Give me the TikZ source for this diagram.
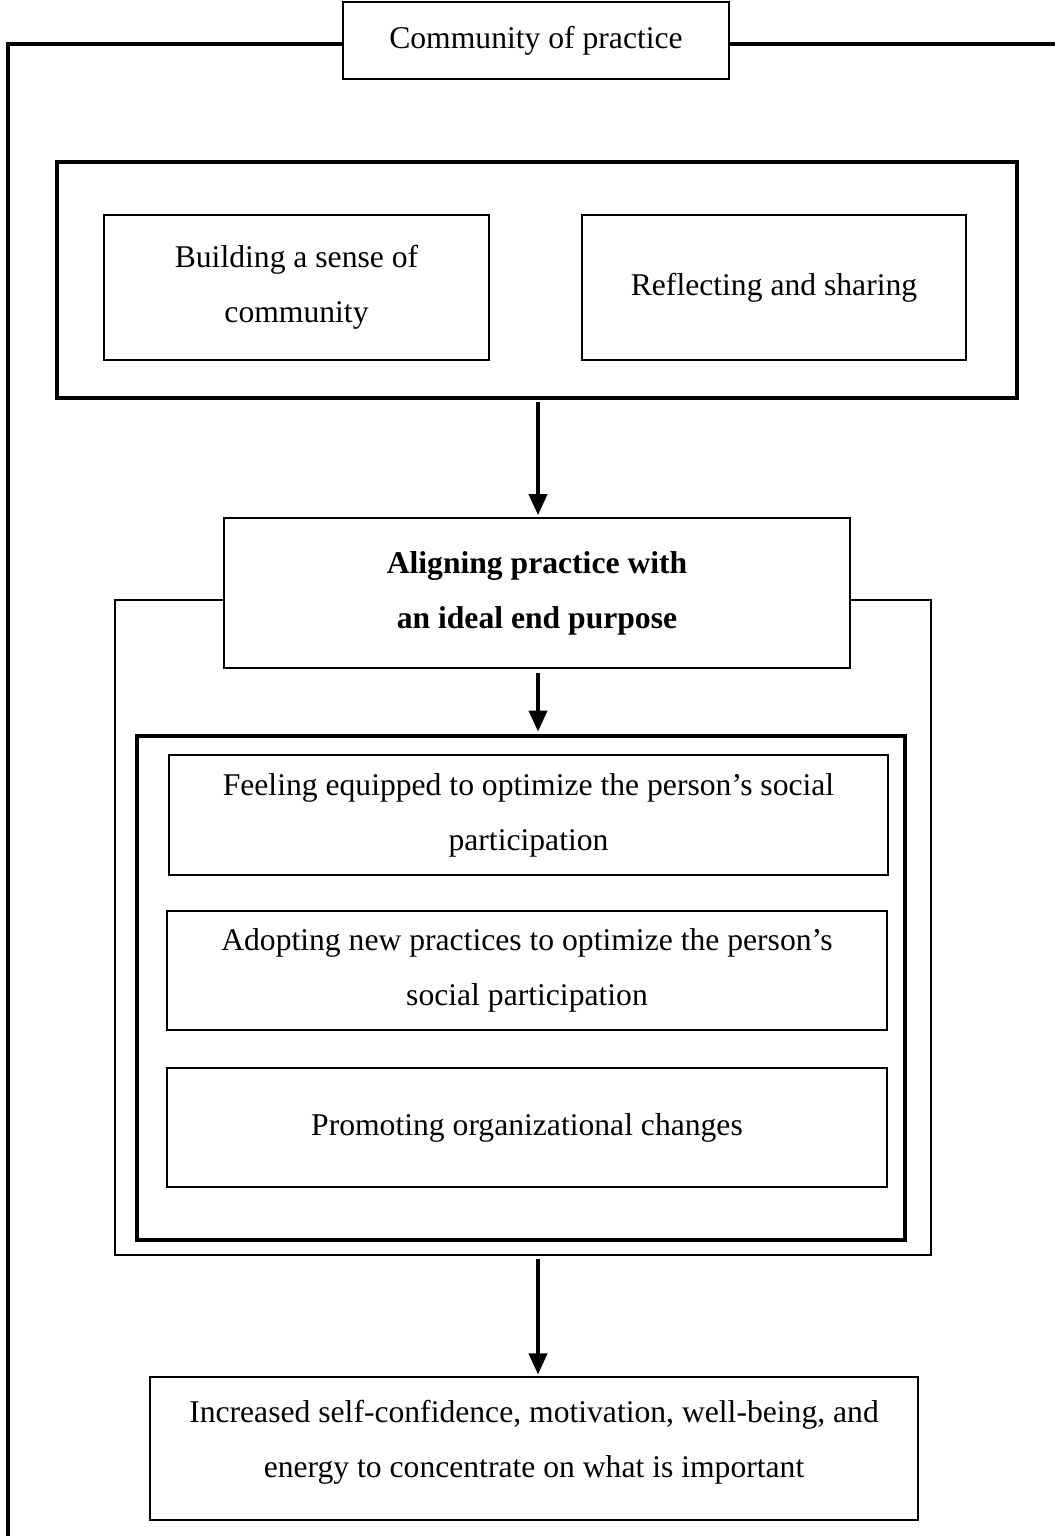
\documentclass[tikz,border=0pt]{standalone}
\usepackage{fontspec}
\setmainfont{Liberation Serif}
\usepackage{tikz}
\usetikzlibrary{arrows.meta,positioning,calc}
\tikzset{
  frameline/.style={line width=1.9pt, black},
  groupbox/.style={rectangle, draw=black, line width=1.9pt, fill=white, inner sep=0pt},
  itembox/.style={rectangle, draw=black, line width=1.2pt, fill=white, inner sep=0pt, align=center,
    font=\fontsize{18pt}{31.3pt}\selectfont},
  keybox/.style={itembox, line width=1.5pt, font=\fontsize{18pt}{31.3pt}\selectfont\bfseries},
  flowarrow/.style={line width=2.2pt, -{Triangle[length=4.2mm,width=3.6mm]}}
}

\begin{document}
\begin{tikzpicture}
  \useasboundingbox (0,0) rectangle (21.1,-30.72);

  % open outer frame
  \coordinate (fr) at (21.1,-0.88);
  \coordinate (fc) at (0.16,-0.88);
  \coordinate (fb) at (0.16,-30.72);
  \draw[frameline] (fr) -- (fc) -- (fb);
  \node[itembox, minimum width=7.72cm, minimum height=1.54cm] (cop) at (10.72,-0.81) {Community of practice};

  % upper group
  \node[groupbox, minimum width=19.2cm, minimum height=4.72cm] (upper) at (10.74,-5.6) {};
  \node[itembox, minimum width=7.7cm, minimum height=2.9cm] (sense) at (5.93,-5.75) {Building a sense of\\community};
  \node[itembox, minimum width=7.68cm, minimum height=2.9cm] (share) at (15.48,-5.75) {Reflecting and sharing};

  % middle group
  \node[groupbox, line width=1.5pt, minimum width=16.32cm, minimum height=13.1cm] (mid) at (10.46,-18.55) {};
  \node[keybox, minimum width=12.52cm, minimum height=3.0cm] (align) at (10.74,-11.86) {Aligning practice with\\an ideal end purpose};
  \node[groupbox, line width=2.2pt, minimum width=15.36cm, minimum height=10.08cm] (inner) at (10.42,-19.76) {};
  \node[itembox, minimum width=14.38cm, minimum height=2.4cm] (equip) at (10.57,-16.3) {Feeling equipped to optimize the person’s social\\participation};
  \node[itembox, minimum width=14.4cm, minimum height=2.38cm] (adopt) at (10.54,-19.41) {Adopting new practices to optimize the person’s\\social participation};
  \node[itembox, minimum width=14.4cm, minimum height=2.38cm] (change) at (10.54,-22.55) {Promoting organizational changes};

  \node[itembox, minimum width=15.36cm, minimum height=2.86cm, text depth=0.4cm] (gain) at (10.68,-28.97) {Increased self-confidence, motivation, well-being, and\\energy to concentrate on what is important};

  \draw[flowarrow] ([xshift=0.02cm,yshift=-0.05cm]upper.south) -- ([xshift=0.02cm,yshift=0.03cm]align.north);
  \draw[flowarrow] ([xshift=0.02cm,yshift=-0.08cm]align.south) -- ([xshift=0.02cm,yshift=0.05cm]align.south |- inner.north);
  \draw[flowarrow] ([xshift=0.08cm,yshift=-0.05cm]gain.north |- mid.south) -- ([xshift=0.08cm,yshift=0.03cm]gain.north);
\end{tikzpicture}
\end{document}
